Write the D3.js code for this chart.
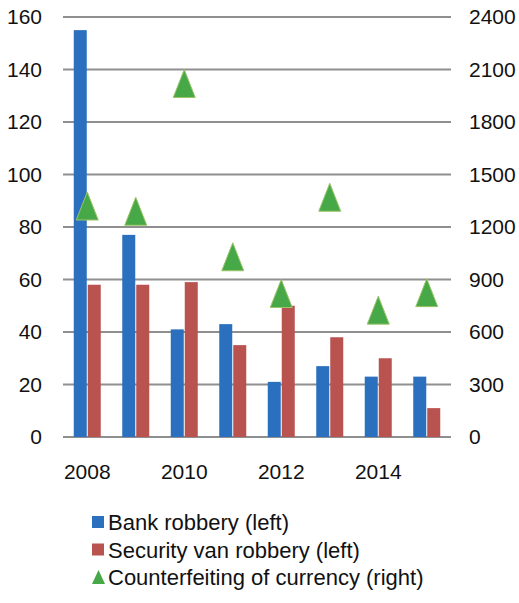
<!DOCTYPE html>
<html><head><meta charset="utf-8">
<script src="https://cdn.jsdelivr.net/npm/d3@7"></script>
<style>
html,body{margin:0;padding:0;background:#fff;}
svg{display:block;font-family:"Liberation Sans",Arial,sans-serif;}
</style></head>
<body><svg id="c" width="519" height="603"></svg>
<script>
const years = [2008, 2009, 2010, 2011, 2012, 2013, 2014, 2015];
const bankRobbery = [155, 77, 41, 43, 21, 27, 23, 23];
const securityVanRobbery = [58, 58, 59, 35, 50, 38, 30, 11];
const counterfeiting = [1320, 1290, 2020, 1030, 820, 1370, 725, 825];
const leftTicks = [0, 20, 40, 60, 80, 100, 120, 140, 160];
const rightTicks = [0, 300, 600, 900, 1200, 1500, 1800, 2100, 2400];
const xTickLabels = [2008, 2010, 2012, 2014];
const seriesNames = ["Bank robbery (left)", "Security van robbery (left)", "Counterfeiting of currency (right)"];
const colors = ["#2b70bf", "#b9534f", "#46a846"];

const svg = d3.select("#c");
const L = 63, R = 451, T = 17, B = 437;
const x = d3.scaleBand().domain(years).range([L, R]).padding(0);
const yL = d3.scaleLinear().domain([0, 160]).range([B, T]);
const yR = d3.scaleLinear().domain([0, 2400]).range([B, T]);

// gridlines
svg.append("g").selectAll("line").data(leftTicks).join("line")
  .attr("x1", L).attr("x2", R)
  .attr("y1", d => yL(d)).attr("y2", d => yL(d))
  .attr("stroke", "#8f8f8f").attr("stroke-width", 2);

// left axis labels
const axL = svg.append("g").attr("transform", `translate(${L},0)`)
  .call(d3.axisLeft(yL).tickValues(leftTicks).tickSize(0).tickPadding(21).tickFormat(d3.format("d")));
axL.select(".domain").remove();
axL.selectAll("text").attr("font-size", 21).attr("fill", "#111").attr("font-family", "Liberation Sans, Arial, sans-serif");

// right axis labels
const axR = svg.append("g").attr("transform", `translate(${R},0)`)
  .call(d3.axisRight(yR).tickValues(rightTicks).tickSize(0).tickPadding(18).tickFormat(d3.format("d")));
axR.select(".domain").remove();
axR.selectAll("text").attr("font-size", 21).attr("fill", "#111").attr("font-family", "Liberation Sans, Arial, sans-serif");

// x axis labels
const axX = svg.append("g").attr("transform", `translate(0,${B})`)
  .call(d3.axisBottom(x).tickValues(xTickLabels).tickSize(0).tickPadding(27).tickFormat(d3.format("d")));
axX.select(".domain").remove();
axX.selectAll("text").attr("font-size", 21).attr("fill", "#111").attr("font-family", "Liberation Sans, Arial, sans-serif");

const bw = 13;
const cx = d => x(d) + x.bandwidth() / 2;
// bars
svg.append("g").selectAll("rect").data(years).join("rect")
  .attr("x", (d) => cx(d) - bw - 0.5).attr("width", bw)
  .attr("y", (d, i) => yL(bankRobbery[i])).attr("height", (d, i) => B - yL(bankRobbery[i]))
  .attr("fill", colors[0]);
svg.append("g").selectAll("rect").data(years).join("rect")
  .attr("x", (d) => cx(d) + 0.5).attr("width", bw)
  .attr("y", (d, i) => yL(securityVanRobbery[i])).attr("height", (d, i) => B - yL(securityVanRobbery[i]))
  .attr("fill", colors[1]);

// triangles
const tri = (hw, hh) => `M0,${-hh}L${hw},${hh}L${-hw},${hh}Z`;
svg.append("g").selectAll("path").data(years).join("path")
  .attr("d", tri(11, 14))
  .attr("transform", (d, i) => `translate(${cx(d)},${yR(counterfeiting[i])})`)
  .attr("fill", colors[2]).attr("stroke", "#9cc46a").attr("stroke-width", 1);

// legend
const lg = svg.append("g");
const rowY = [530, 557.5, 585];
seriesNames.forEach((name, i) => {
  if (i < 2) {
    lg.append("rect").attr("x", 92).attr("y", rowY[i] - 14).attr("width", 12).attr("height", 12).attr("fill", colors[i]);
  } else {
    lg.append("path").attr("d", tri(6.5, 7)).attr("transform", `translate(98.5,${rowY[i] - 8})`).attr("fill", colors[2]);
  }
  lg.append("text").attr("x", 108).attr("y", rowY[i]).attr("font-size", 22).attr("fill", "#111")
    .text(name);
});
</script></body></html>
